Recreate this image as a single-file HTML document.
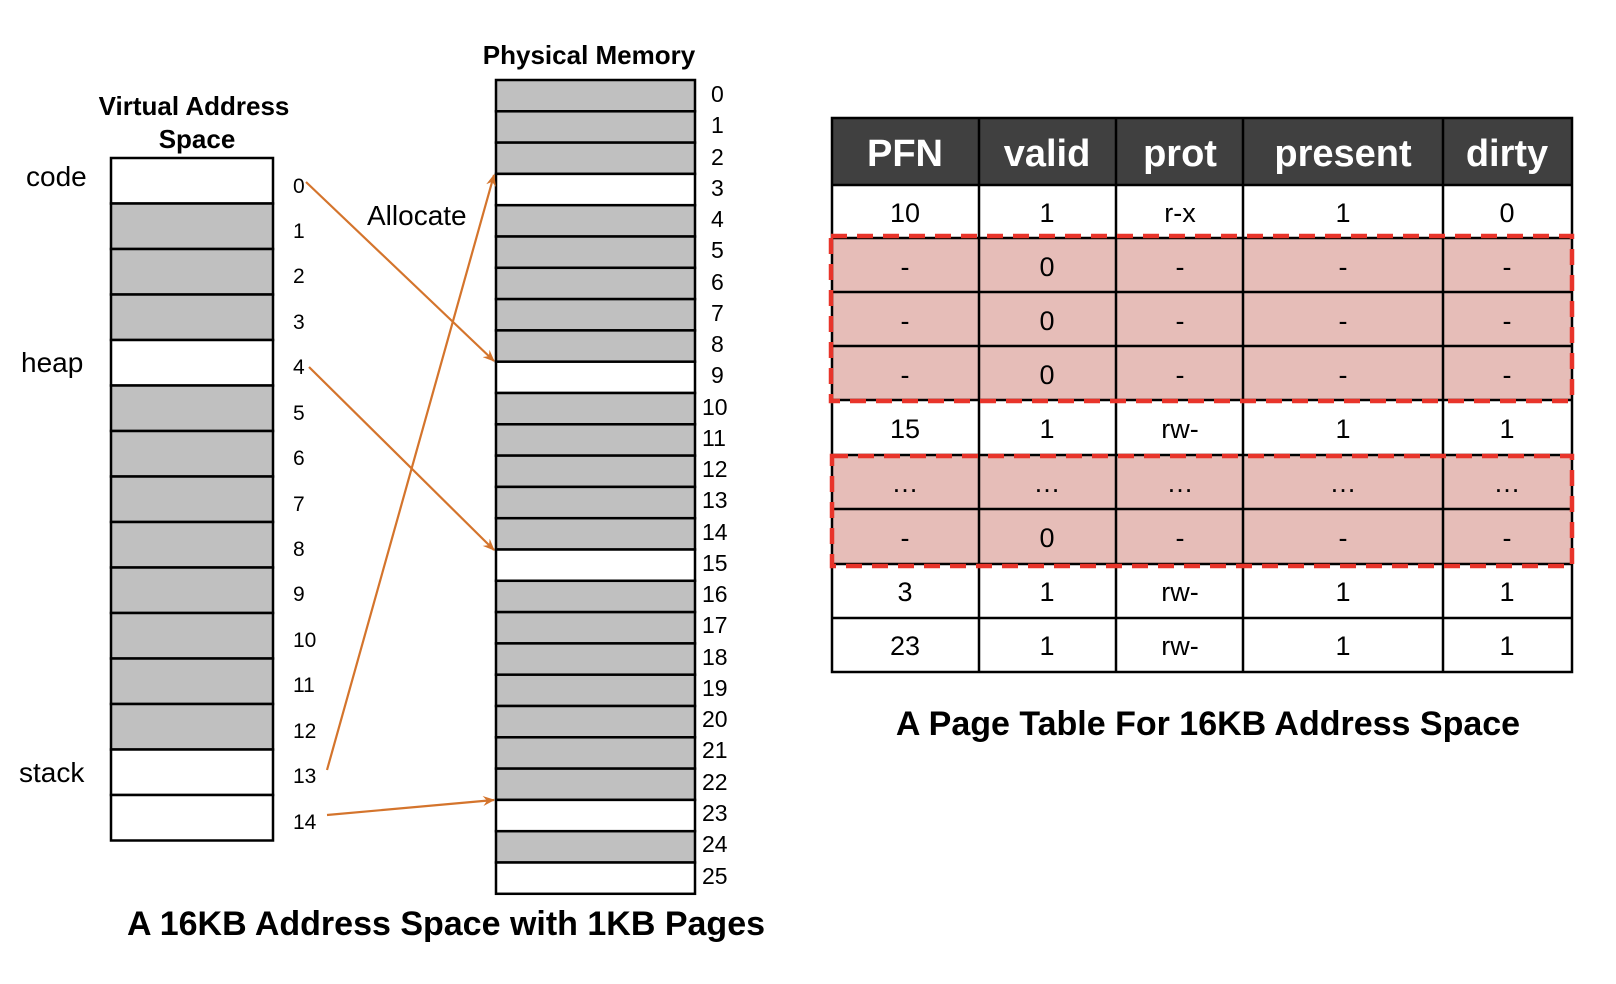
<!DOCTYPE html>
<html><head><meta charset="utf-8"><style>
html,body{margin:0;padding:0;background:#fff;}
svg{display:block;font-family:"Liberation Sans","Noto Sans CJK KR",sans-serif;}
</style></head><body>
<svg width="1616" height="984" viewBox="0 0 1616 984" xmlns="http://www.w3.org/2000/svg">
<defs>
<marker id="ah" markerWidth="12" markerHeight="10" refX="11" refY="5" orient="auto" markerUnits="userSpaceOnUse">
<path d="M0,0 L12,5 L0,10 L4,5 Z" fill="#d4742c"/>
</marker>
</defs>
<!-- Virtual address space -->
<text x="194" y="115" font-size="26" font-weight="bold" text-anchor="middle">Virtual Address</text>
<text x="197" y="148" font-size="26" font-weight="bold" text-anchor="middle">Space</text>
<g stroke="#000" stroke-width="2.5">
<rect x="111" y="158" width="162" height="45.5" fill="#fff"/>
<rect x="111" y="203.5" width="162" height="45.5" fill="#c0c0c0"/>
<rect x="111" y="249" width="162" height="45.5" fill="#c0c0c0"/>
<rect x="111" y="294.5" width="162" height="45.5" fill="#c0c0c0"/>
<rect x="111" y="340" width="162" height="45.5" fill="#fff"/>
<rect x="111" y="385.5" width="162" height="45.5" fill="#c0c0c0"/>
<rect x="111" y="431" width="162" height="45.5" fill="#c0c0c0"/>
<rect x="111" y="476.5" width="162" height="45.5" fill="#c0c0c0"/>
<rect x="111" y="522" width="162" height="45.5" fill="#c0c0c0"/>
<rect x="111" y="567.5" width="162" height="45.5" fill="#c0c0c0"/>
<rect x="111" y="613" width="162" height="45.5" fill="#c0c0c0"/>
<rect x="111" y="658.5" width="162" height="45.5" fill="#c0c0c0"/>
<rect x="111" y="704" width="162" height="45.5" fill="#c0c0c0"/>
<rect x="111" y="749.5" width="162" height="45.5" fill="#fff"/>
<rect x="111" y="795" width="162" height="45.5" fill="#fff"/>
</g>
<g font-size="21" fill="#000">
<text x="293" y="193">0</text><text x="293" y="238">1</text><text x="293" y="283">2</text>
<text x="293" y="329">3</text><text x="293" y="374">4</text><text x="293" y="420">5</text>
<text x="293" y="465">6</text><text x="293" y="511">7</text><text x="293" y="556">8</text>
<text x="293" y="601">9</text><text x="293" y="647">10</text><text x="293" y="692">11</text>
<text x="293" y="738">12</text><text x="293" y="783">13</text><text x="293" y="829">14</text>
</g>
<g font-size="28">
<text x="26" y="186">code</text>
<text x="21" y="372">heap</text>
<text x="19" y="782">stack</text>
<text x="367" y="225">Allocate</text>
</g>
<!-- Physical memory -->
<text x="589" y="64" font-size="26" font-weight="bold" text-anchor="middle">Physical Memory</text>
<g stroke="#000" stroke-width="2.5">
<rect x="496" y="80" width="199" height="31.3" fill="#c0c0c0"/>
<rect x="496" y="111.3" width="199" height="31.3" fill="#c0c0c0"/>
<rect x="496" y="142.6" width="199" height="31.3" fill="#c0c0c0"/>
<rect x="496" y="173.9" width="199" height="31.3" fill="#fff"/>
<rect x="496" y="205.2" width="199" height="31.3" fill="#c0c0c0"/>
<rect x="496" y="236.5" width="199" height="31.3" fill="#c0c0c0"/>
<rect x="496" y="267.8" width="199" height="31.3" fill="#c0c0c0"/>
<rect x="496" y="299.1" width="199" height="31.3" fill="#c0c0c0"/>
<rect x="496" y="330.4" width="199" height="31.3" fill="#c0c0c0"/>
<rect x="496" y="361.7" width="199" height="31.3" fill="#fff"/>
<rect x="496" y="393" width="199" height="31.3" fill="#c0c0c0"/>
<rect x="496" y="424.3" width="199" height="31.3" fill="#c0c0c0"/>
<rect x="496" y="455.6" width="199" height="31.3" fill="#c0c0c0"/>
<rect x="496" y="486.9" width="199" height="31.3" fill="#c0c0c0"/>
<rect x="496" y="518.2" width="199" height="31.3" fill="#c0c0c0"/>
<rect x="496" y="549.5" width="199" height="31.3" fill="#fff"/>
<rect x="496" y="580.8" width="199" height="31.3" fill="#c0c0c0"/>
<rect x="496" y="612.1" width="199" height="31.3" fill="#c0c0c0"/>
<rect x="496" y="643.4" width="199" height="31.3" fill="#c0c0c0"/>
<rect x="496" y="674.7" width="199" height="31.3" fill="#c0c0c0"/>
<rect x="496" y="706" width="199" height="31.3" fill="#c0c0c0"/>
<rect x="496" y="737.3" width="199" height="31.3" fill="#c0c0c0"/>
<rect x="496" y="768.6" width="199" height="31.3" fill="#c0c0c0"/>
<rect x="496" y="799.9" width="199" height="31.3" fill="#fff"/>
<rect x="496" y="831.2" width="199" height="31.3" fill="#c0c0c0"/>
<rect x="496" y="862.5" width="199" height="31.3" fill="#fff"/>
</g>
<g font-size="23" fill="#000">
<text x="711" y="102">0</text><text x="711" y="133">1</text><text x="711" y="165">2</text>
<text x="711" y="196">3</text><text x="711" y="227">4</text><text x="711" y="258">5</text>
<text x="711" y="290">6</text><text x="711" y="321">7</text><text x="711" y="352">8</text>
<text x="711" y="383">9</text><text x="702" y="415">10</text><text x="702" y="446">11</text>
<text x="702" y="477">12</text><text x="702" y="508">13</text><text x="702" y="540">14</text>
<text x="702" y="571">15</text><text x="702" y="602">16</text><text x="702" y="633">17</text>
<text x="702" y="665">18</text><text x="702" y="696">19</text><text x="702" y="727">20</text>
<text x="702" y="758">21</text><text x="702" y="790">22</text><text x="702" y="821">23</text>
<text x="702" y="852">24</text><text x="702" y="884">25</text>
</g>
<!-- arrows -->
<g stroke="#d4742c" stroke-width="2.2" fill="none" marker-end="url(#ah)">
<line x1="306" y1="182" x2="494" y2="361"/>
<line x1="309" y1="367" x2="494" y2="550"/>
<line x1="327" y1="770" x2="494" y2="175"/>
<line x1="327" y1="815" x2="494" y2="800"/>
</g>
<text x="446" y="935" font-size="34" font-weight="bold" text-anchor="middle">A 16KB Address Space with 1KB Pages</text>

<!-- Page table -->
<rect x="832" y="118" width="740" height="67" fill="#404040"/>
<rect x="832" y="238" width="740" height="162" fill="#e6bdb8"/>
<rect x="832" y="455" width="740" height="109" fill="#e6bdb8"/>
<g stroke="#000" stroke-width="2.5" fill="none">
<rect x="832" y="118" width="740" height="554"/>
<line x1="979" y1="118" x2="979" y2="672"/>
<line x1="1116" y1="118" x2="1116" y2="672"/>
<line x1="1243" y1="118" x2="1243" y2="672"/>
<line x1="1443" y1="118" x2="1443" y2="672"/>
<line x1="832" y1="185" x2="1572" y2="185"/>
<line x1="832" y1="238" x2="1572" y2="238"/>
<line x1="832" y1="292" x2="1572" y2="292"/>
<line x1="832" y1="346" x2="1572" y2="346"/>
<line x1="832" y1="400" x2="1572" y2="400"/>
<line x1="832" y1="455" x2="1572" y2="455"/>
<line x1="832" y1="509" x2="1572" y2="509"/>
<line x1="832" y1="564" x2="1572" y2="564"/>
<line x1="832" y1="618" x2="1572" y2="618"/>
</g>
<g fill="#fff" font-size="38" font-weight="bold" text-anchor="middle">
<text x="905" y="166">PFN</text><text x="1047" y="166">valid</text><text x="1180" y="166">prot</text>
<text x="1343" y="166">present</text><text x="1507" y="166">dirty</text>
</g>
<g font-size="27" text-anchor="middle" fill="#000">
<text x="905" y="222">10</text><text x="1047" y="222">1</text><text x="1180" y="222">r-x</text><text x="1343" y="222">1</text><text x="1507" y="222">0</text>
<text x="905" y="276">-</text><text x="1047" y="276">0</text><text x="1180" y="276">-</text><text x="1343" y="276">-</text><text x="1507" y="276">-</text>
<text x="905" y="330">-</text><text x="1047" y="330">0</text><text x="1180" y="330">-</text><text x="1343" y="330">-</text><text x="1507" y="330">-</text>
<text x="905" y="384">-</text><text x="1047" y="384">0</text><text x="1180" y="384">-</text><text x="1343" y="384">-</text><text x="1507" y="384">-</text>
<text x="905" y="438">15</text><text x="1047" y="438">1</text><text x="1180" y="438">rw-</text><text x="1343" y="438">1</text><text x="1507" y="438">1</text>
<text x="905" y="492">…</text><text x="1047" y="492">…</text><text x="1180" y="492">…</text><text x="1343" y="492">…</text><text x="1507" y="492">…</text>
<text x="905" y="547">-</text><text x="1047" y="547">0</text><text x="1180" y="547">-</text><text x="1343" y="547">-</text><text x="1507" y="547">-</text>
<text x="905" y="601">3</text><text x="1047" y="601">1</text><text x="1180" y="601">rw-</text><text x="1343" y="601">1</text><text x="1507" y="601">1</text>
<text x="905" y="655">23</text><text x="1047" y="655">1</text><text x="1180" y="655">rw-</text><text x="1343" y="655">1</text><text x="1507" y="655">1</text>
</g>
<g stroke="#e8342a" stroke-width="4.5" fill="none" stroke-dasharray="16,10">
<rect x="831" y="236" width="741" height="165"/>
<rect x="832" y="456" width="740" height="110"/>
</g>
<text x="1208" y="735" font-size="34" font-weight="bold" text-anchor="middle">A Page Table For 16KB Address Space</text>
</svg>
</body></html>
